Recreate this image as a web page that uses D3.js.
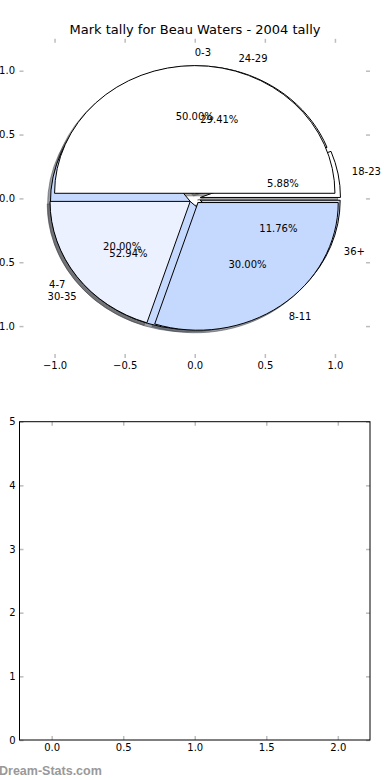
<!DOCTYPE html>
<html>
<head>
<meta charset="utf-8">
<script src="https://d3js.org/d3.v7.min.js"></script>
<style>
body { margin: 0; background: #fff; }
svg { display: block; font-family: "DejaVu Sans", sans-serif; }
.tick line { stroke: #bdbdbd; stroke-width: 1.5; }
.tick text { fill: #000; font-size: 10px; font-family: "DejaVu Sans", sans-serif; }
</style>
</head>
<body>
<div class="cont"></div>
<script>
var w = 390,
h = 780;

var title = "Mark tally for Beau Waters - 2004 tally";

// first pie (drawn on top)
var ages1 = ["0-3", "4-7", "8-11"];
var tally1 = [5, 2, 3];
var colors1 = ["#ffffff", "#ebf1fe", "#c5d8fd"];

// second pie (drawn underneath)
var ages2 = ["18-23", "24-29", "30-35", "36+"];
var tally2 = [1, 5, 9, 2];
var colors2 = ["#ffffff", "#ebf1fe", "#c5d8fd", "#c5d8fd"];

var pieTicks = [-1, -0.5, 0, 0.5, 1];
var barXTicks = [0, 0.5, 1, 1.5, 2];
var barYTicks = [0, 1, 2, 3, 4, 5];

var explode = 0.04,
shadowOff = 0.02;

var svg = d3.select(".cont").append("svg").
attr("width", w).
attr("height", h);

svg.append("rect").
attr("width", w).
attr("height", h).
attr("fill", "#fff");

svg.append("text").
attr("x", 195).
attr("y", 34).
attr("text-anchor", "middle").
attr("font-size", 13).
text(title);

// ---- top axes: the pies ----
var x1 = d3.scaleLinear().domain([-1.25, 1.25]).range([19.5, 370]);
var y1 = d3.scaleLinear().domain([-1.25, 1.25]).range([358, 38.8]);

var kx = x1(1) - x1(0),
ky = y1(0) - y1(1);

var pie = d3.pie().
sort(null).
startAngle(Math.PI / 2).
endAngle(Math.PI / 2 - 2 * Math.PI);

var arc = d3.arc().innerRadius(0).outerRadius(kx);

function wedges(labels, values, colors) {
  var total = d3.sum(values);
  return pie(values).map(function (d, i) {
    var mid = (d.startAngle + d.endAngle) / 2;
    d.label = labels[i];
    d.color = colors[i];
    d.ux = Math.sin(mid);
    d.uy = Math.cos(mid);
    d.pct = d.value / total * 100;
    return d;
  });
}

var all = wedges(ages2, tally2, colors2).concat(wedges(ages1, tally1, colors1));

function place(d, ox, oy) {
  var cx = x1(d.ux * explode + ox),
  cy = y1(d.uy * explode + oy);
  return "translate(" + cx + "," + cy + ") scale(1," + ky / kx + ")";
}

var pg = svg.append("g");

pg.selectAll("path.shadow").
data(all).
enter().append("path").
attr("class", "shadow").
attr("d", arc).
attr("transform", function (d) {return place(d, -shadowOff, -shadowOff);}).
attr("fill", function (d) {
  var c = d3.rgb(d.color);
  return "rgba(" + c.r * 0.3 + "," + c.g * 0.3 + "," + c.b * 0.3 + ",0.5)";
}).
attr("stroke", function (d) {
  var c = d3.rgb(d.color);
  return "rgba(" + c.r * 0.3 + "," + c.g * 0.3 + "," + c.b * 0.3 + ",0.5)";
}).
attr("vector-effect", "non-scaling-stroke");

pg.selectAll("path.wedge").
data(all).
enter().append("path").
attr("class", "wedge").
attr("d", arc).
attr("transform", function (d) {return place(d, 0, 0);}).
attr("fill", function (d) {return d.color;}).
attr("stroke", "#000").
attr("stroke-width", 1).
attr("stroke-linejoin", "round").
attr("vector-effect", "non-scaling-stroke");

pg.selectAll("text.lab").
data(all).
enter().append("text").
attr("class", "lab").
attr("x", function (d) {return x1(d.ux * (explode + 1.1));}).
attr("y", function (d) {return y1(d.uy * (explode + 1.1));}).
attr("dy", "0.36em").
attr("font-size", 10).
attr("text-anchor", function (d) {return d.ux >= 0 ? "start" : "end";}).
text(function (d) {return d.label;});

pg.selectAll("text.pct").
data(all).
enter().append("text").
attr("class", "pct").
attr("x", function (d) {return x1(d.ux * (explode + 0.6));}).
attr("y", function (d) {return y1(d.uy * (explode + 0.6));}).
attr("dy", "0.36em").
attr("font-size", 10).
attr("text-anchor", "middle").
text(function (d) {return d.pct.toFixed(2) + "%";});

var f1 = d3.format(".1f");

svg.append("g").
attr("transform", "translate(0," + y1(-1.25) + ")").
call(d3.axisBottom(x1).tickValues(pieTicks).tickSize(-4).tickPadding(4).tickFormat(f1));
svg.append("g").
attr("transform", "translate(0," + y1(1.25) + ")").
call(d3.axisTop(x1).tickValues(pieTicks).tickSize(-4).tickFormat(""));
svg.append("g").
attr("transform", "translate(" + x1(-1.25) + ",0)").
call(d3.axisLeft(y1).tickValues(pieTicks).tickSize(-4).tickPadding(4.5).tickFormat(f1));
svg.append("g").
attr("transform", "translate(" + x1(1.25) + ",0)").
call(d3.axisRight(y1).tickValues(pieTicks).tickSize(-4).tickFormat(""));

// ---- bottom axes: empty plot ----
var x2 = d3.scaleLinear().domain([-0.225, 2.225]).range([19.5, 370]);
var y2 = d3.scaleLinear().domain([0, 5]).range([740, 421.7]);

svg.append("g").
attr("transform", "translate(0," + y2(0) + ")").
call(d3.axisBottom(x2).tickValues(barXTicks).tickSize(-4).tickPadding(4).tickFormat(f1));
svg.append("g").
attr("transform", "translate(0," + y2(5) + ")").
call(d3.axisTop(x2).tickValues(barXTicks).tickSize(-4).tickFormat(""));
svg.append("g").
attr("transform", "translate(" + x2(-0.225) + ",0)").
call(d3.axisLeft(y2).tickValues(barYTicks).tickSize(-4).tickPadding(4).tickFormat(d3.format("d")));
svg.append("g").
attr("transform", "translate(" + x2(2.225) + ",0)").
call(d3.axisRight(y2).tickValues(barYTicks).tickSize(-4).tickFormat(""));

svg.selectAll(".domain").remove();

svg.append("rect").
attr("x", x2(-0.225)).
attr("y", y2(5)).
attr("width", x2(2.225) - x2(-0.225)).
attr("height", y2(0) - y2(5)).
attr("fill", "none").
attr("stroke", "#000").
attr("stroke-width", 1);

svg.append("text").
attr("x", -1).
attr("y", 775).
attr("font-family", "'Liberation Sans', Arial, sans-serif").
attr("font-weight", "bold").
attr("font-size", 12.5).
attr("fill", "#999").
text("Dream-Stats.com");
</script>
</body>
</html>
